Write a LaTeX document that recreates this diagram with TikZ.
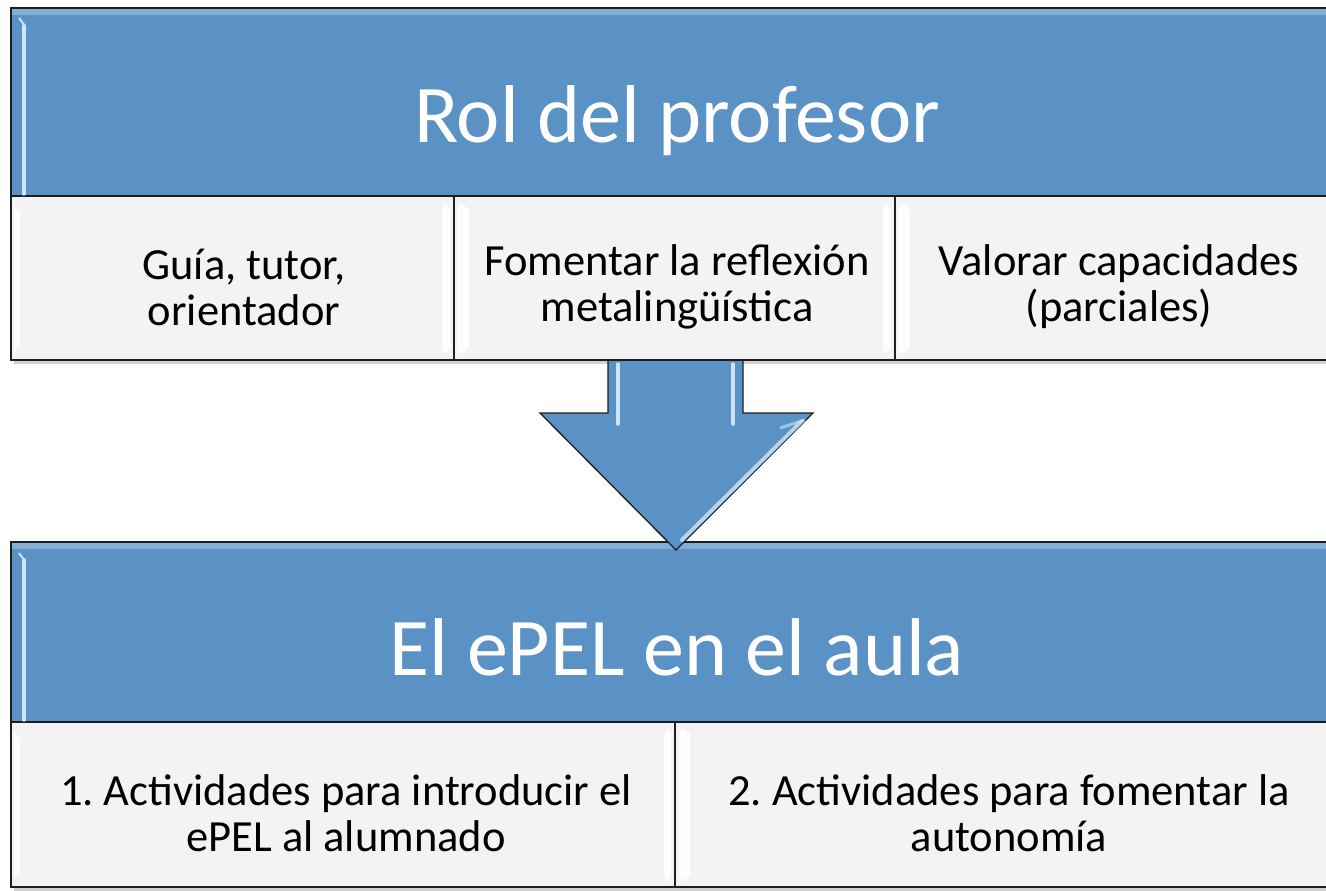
\documentclass[tikz,border=0pt]{standalone}
\usepackage{fontspec}
\setmainfont{Carlito}
\definecolor{hdr}{RGB}{91,146,197}
\definecolor{hdrtop}{RGB}{150,190,225}
\definecolor{cellc}{RGB}{243,243,243}
\definecolor{hilite}{RGB}{205,230,250}
\definecolor{edge}{RGB}{30,30,30}
\begin{document}
\frenchspacing
\begin{tikzpicture}[x=1pt,y=-1pt,
  hdrbox/.style={draw=edge, line width=1.5pt, fill=hdr, inner sep=0pt,
    minimum width=1327pt, minimum height=#1},
  titletext/.style={inner sep=0pt, anchor=base, text=white,
    font=\fontsize{82}{98}\selectfont},
  cellbox/.style={draw=edge, line width=1.5pt, fill=cellc, inner sep=0pt,
    minimum height=#1},
  celltext/.style={inner sep=0pt, align=center, text=black,
    font=\fontsize{44.5}{46}\selectfont},
  shine/.style={draw=none, fill=white, opacity=0.85},
  glint/.style={hilite, line width=3.5pt, line cap=round},
  arrowbody/.style={draw=edge, line width=1.3pt, fill=hdr, line join=miter}]
\useasboundingbox (0,0) rectangle (1326,891);
\clip (0,0) rectangle (1326,891);

% ---------- shadows ----------
\fill[black!18] (14,12) rectangle (1342,364);
\fill[black!18] (14,546) rectangle (1342,891);

% ---------- bottom box ----------
\node[hdrbox=180pt] (h2) at (674.5,632) {};
\node[titletext] (t2) at (677,675) {El ePEL en el aula};
\node[cellbox=165pt, minimum width=664pt] (c21) at (343,804.5) {};
\node[cellbox=165pt, minimum width=664pt] (c22) at (1007,804.5) {};
\node[celltext] (x21) at (346,813) {1. Actividades para introducir el\\ePEL al alumnado};
\node[celltext] (x22) at (1009,813) {2. Actividades para fomentar la\\autonomía};

% bottom header glints
\fill[hdrtop, opacity=0.7] (12,543) rectangle (1338,549);
\draw[glint] (24,560) -- (24,720);
\draw[hilite, line width=2pt] (19,553) -- (25,561);
% bottom cell glints
\fill[shine] (664,734) -- (668,728) -- (671,734) -- (671,876) -- (668,882) -- (664,876) -- cycle;
\fill[shine] (679,734) -- (682,728) -- (690,734) -- (690,876) -- (682,882) -- (679,876) -- cycle;
\fill[shine] (14,732) -- (20,738) -- (20,872) -- (14,878) -- cycle;

% ---------- arrow ----------
\draw[arrowbody] (608,358) -- (608,413) -- (540,413) -- (676,550)
  -- (813,413) -- (743,413) -- (743,358) -- cycle;
\draw[glint] (618,364) -- (618,424);
\draw[glint] (733,364) -- (733,424);
\draw[hilite, line width=4pt, line cap=round, opacity=0.8] (802,421) -- (682,540);
\draw[hilite, line width=3pt, opacity=0.6] (780,428) -- (805,420);

% ---------- top box ----------
\node[hdrbox=188pt] (h1) at (674.5,102) {};
\node[titletext] (t1) at (677,142) {Rol del profesor};
\node[cellbox=164pt, minimum width=443pt] (c11) at (232.5,278) {};
\node[cellbox=164pt, minimum width=441pt] (c12) at (674.5,278) {};
\node[cellbox=164pt, minimum width=443pt] (c13) at (1116.5,278) {};
\node[celltext] (x11) at (244,287) {Guía, tutor,\\orientador};
\node[celltext] (x12) at (677,287) {Fomentar la reflexión\\metalingüística};
\node[celltext] (x13) at (1119,287) {Valorar capacidades\\(parciales)};

% top header glints
\fill[hdrtop, opacity=0.7] (12,9) rectangle (1338,15);
\draw[glint] (24,26) -- (24,194);
\draw[hilite, line width=2pt] (19,18) -- (25,26);
% top cell glints
\foreach \d in {454,895}{
  \fill[shine] (\d-12,209) -- (\d-9,203) -- (\d-4,209) -- (\d-4,348) -- (\d-9,354) -- (\d-12,348) -- cycle;
  \fill[shine] (\d+3,209) -- (\d+6,203) -- (\d+15,209) -- (\d+15,348) -- (\d+6,354) -- (\d+3,348) -- cycle;
}
\fill[shine] (14,206) -- (20,212) -- (20,346) -- (14,352) -- cycle;
\end{tikzpicture}
\end{document}
